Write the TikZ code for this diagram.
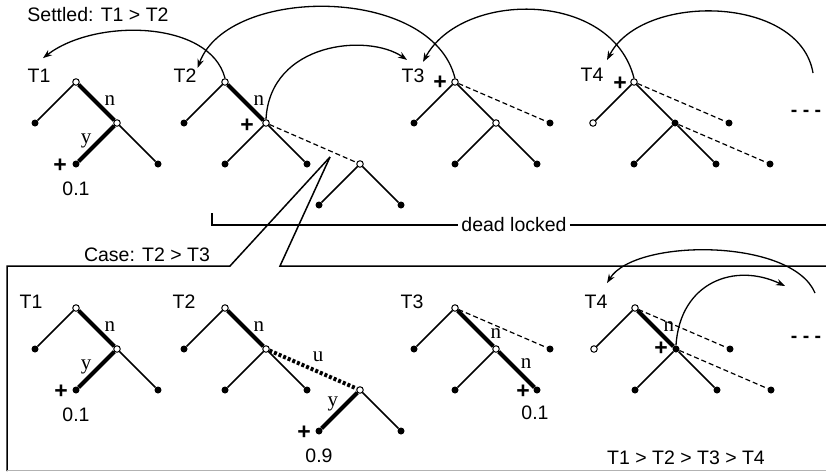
\documentclass[tikz,border=0pt]{standalone}
\usepackage{fontspec}
\setmainfont{Liberation Sans}
\newfontfamily\timesfont{Liberation Serif}
\usetikzlibrary{arrows.meta,positioning}

\begin{document}
\begin{tikzpicture}[x=1pt,y=-1pt,>={Stealth[length=9pt,width=6.5pt]},
 node distance=41pt and 41pt,on grid,
 leaf/.style={circle,fill,inner sep=0pt,minimum size=7pt},
 hollow/.style={circle,draw,fill=white,line width=1pt,inner sep=0pt,minimum size=6.5pt},
 branch/.style={line width=1.5pt},
 heavy/.style={line width=4pt},
 ghost/.style={line width=1.2pt,dash pattern=on 5pt off 3pt},
 heavyghost/.style={line width=4pt,dash pattern=on 3pt off 2pt},
 txt/.style={font=\fontsize{19.5}{22}\selectfont,inner sep=1pt},
 plus/.style={txt,font=\fontsize{23}{24}\selectfont\bfseries},
 dots/.style={txt,font=\fontsize{19.5}{22}\selectfont\bfseries},
 lab/.style={font=\timesfont\fontsize{21}{24}\selectfont,inner sep=1pt},
 onright/.style={lab,anchor=west,xshift=5pt,yshift=2pt},
 onleft/.style={lab,anchor=east,xshift=-2pt,yshift=3pt},
 swing/.style={->,line width=1.3pt}]
\useasboundingbox (0,0) rectangle (826,471);

% settled row
\node[txt] (settled) at (98,15) {Settled: T1 > T2};

% T1
\node[hollow] (a1r) at (76,82) {};
\node[leaf,below left=of a1r] (a1l) {};
\node[hollow,below right=of a1r] (a1m) {};
\node[leaf,below left=of a1m] (a1ml) {};
\node[leaf,below right=of a1m] (a1mr) {};
\node[txt,above left=6pt and 37pt of a1r] (a1t) {T1};
\node[plus,left=16pt of a1ml,yshift=-2pt] (a1p) {+};
\node[txt,below=25pt of a1ml] (a1v) {0.1};
\draw[branch] (a1r) -- (a1l);
\draw[heavy] (a1r) -- node[onright]{n} (a1m);
\draw[heavy] (a1m) -- node[onleft]{y} (a1ml);
\draw[branch] (a1m) -- (a1mr);

% T2
\node[hollow] (a2r) at (225,82) {};
\node[leaf,below left=of a2r] (a2l) {};
\node[hollow,below right=of a2r] (a2m) {};
\node[leaf,below left=of a2m] (a2ml) {};
\node[leaf,below right=of a2m] (a2mr) {};
\node[hollow,below right=41pt and 94pt of a2m] (a2x) {};
\node[leaf,below left=of a2x] (a2xl) {};
\node[leaf,below right=of a2x] (a2xr) {};
\node[txt,above left=6pt and 40pt of a2r] (a2t) {T2};
\node[plus,left=19pt of a2m,yshift=-3pt] (a2p) {+};
\draw[branch] (a2r) -- (a2l);
\draw[heavy] (a2r) -- node[onright]{n} (a2m);
\draw[branch] (a2m) -- (a2ml);
\draw[branch] (a2m) -- (a2mr);
\draw[ghost] (a2m) -- (a2x);
\draw[branch] (a2x) -- (a2xl);
\draw[branch] (a2x) -- (a2xr);

% T3
\node[hollow] (a3r) at (455,82) {};
\node[leaf,below left=of a3r] (a3l) {};
\node[hollow,below right=of a3r] (a3m) {};
\node[leaf,below left=of a3m] (a3ml) {};
\node[leaf,below right=of a3m] (a3mr) {};
\node[leaf,below right=41pt and 95pt of a3r] (a3x) {};
\node[txt,above left=6pt and 42pt of a3r] (a3t) {T3};
\node[plus,left=15pt of a3r,yshift=-1pt] (a3p) {+};
\draw[branch] (a3r) -- (a3l);
\draw[branch] (a3r) -- (a3m);
\draw[branch] (a3m) -- (a3ml);
\draw[branch] (a3m) -- (a3mr);
\draw[ghost] (a3r) -- (a3x);

% T4
\node[hollow] (a4r) at (634,82) {};
\node[hollow,below left=of a4r] (a4l) {};
\node[leaf,below right=of a4r] (a4m) {};
\node[leaf,below left=of a4m] (a4ml) {};
\node[leaf,below right=of a4m] (a4mr) {};
\node[leaf,below right=41pt and 95pt of a4r] (a4x) {};
\node[leaf,below right=41pt and 95pt of a4m] (a4y) {};
\node[txt,above left=7pt and 42pt of a4r] (a4t) {T4};
\node[plus,left=14pt of a4r,yshift=-2pt] (a4p) {+};
\node[dots] (a4d) at (806,113) {- - -};
\draw[branch] (a4r) -- (a4l);
\draw[branch] (a4r) -- (a4m);
\draw[branch] (a4m) -- (a4ml);
\draw[branch] (a4m) -- (a4mr);
\draw[ghost] (a4r) -- (a4x);
\draw[ghost] (a4m) -- (a4y);

% waiting arcs
\coordinate (a4w) at (813,73);
\draw[swing] (a2r.north) .. controls (210,20) and (95,18) .. ([xshift=4pt,yshift=10pt]a1t.north);
\draw[swing] (a3r.north) .. controls (432,-15) and (228,-15) .. (a2t.north east);
\draw[swing] (a2m.north) .. controls (270,42) and (368,33) .. ([xshift=-6pt,yshift=8pt]a3t.north);
\draw[swing] (a4r.north) .. controls (612,-10) and (462,-10) .. ([xshift=10pt,yshift=6pt]a3t.north);
\draw[swing] (a4w) .. controls (800,-5) and (642,-8) .. ([xshift=15pt,yshift=7pt]a4t.north);

% dead lock bracket
\coordinate (dlk) at (212,213);
\coordinate (dle) at (826,225);
\node[txt,inner sep=3pt] (dl) at (514,225) {dead locked};
\draw[branch] (dlk) |- (dl.west);
\draw[branch] (dl.east) -- (dle);

% callout box
\coordinate (zoom) at (330,157);
\node[txt] (case) at (147,255) {Case: T2 > T3};
\draw[branch] (zoom) -- (230,266) -- (7,266) -- (7,471);
\draw[branch] (zoom) -- (280,266) -- (826,266);
\draw[gray!60,line width=0.8pt] (7,470) -- (826,470);

% T1 (case)
\node[hollow] (b1r) at (76,308) {};
\node[leaf,below left=of b1r] (b1l) {};
\node[hollow,below right=of b1r] (b1m) {};
\node[leaf,below left=of b1m] (b1ml) {};
\node[leaf,below right=of b1m] (b1mr) {};
\node[txt,above left=6pt and 45pt of b1r] (b1t) {T1};
\node[plus,left=15pt of b1ml,yshift=-2pt] (b1p) {+};
\node[txt,below=25pt of b1ml] (b1v) {0.1};
\draw[branch] (b1r) -- (b1l);
\draw[heavy] (b1r) -- node[onright]{n} (b1m);
\draw[heavy] (b1m) -- node[onleft]{y} (b1ml);
\draw[branch] (b1m) -- (b1mr);

% T2 (case)
\node[hollow] (b2r) at (225,308) {};
\node[leaf,below left=of b2r] (b2l) {};
\node[hollow,below right=of b2r] (b2m) {};
\node[leaf,below left=of b2m] (b2ml) {};
\node[leaf,below right=of b2m] (b2mr) {};
\node[hollow,below right=41pt and 94pt of b2m] (b2x) {};
\node[leaf,below left=of b2x] (b2xl) {};
\node[leaf,below right=of b2x] (b2xr) {};
\node[txt,above left=6pt and 41pt of b2r] (b2t) {T2};
\node[plus,left=15pt of b2xl,yshift=-2pt] (b2p) {+};
\node[txt,below=25pt of b2xl] (b2v) {0.9};
\draw[branch] (b2r) -- (b2l);
\draw[heavy] (b2r) -- node[onright]{n} (b2m);
\draw[branch] (b2m) -- (b2ml);
\draw[branch] (b2m) -- (b2mr);
\draw[heavyghost] (b2m) -- node[lab,anchor=south,xshift=5pt,yshift=5pt]{u} (b2x);
\draw[heavy] (b2x) -- node[onleft,pos=.4]{y} (b2xl);
\draw[branch] (b2x) -- (b2xr);

% T3 (case)
\node[hollow] (b3r) at (455,308) {};
\node[leaf,below left=of b3r] (b3l) {};
\node[hollow,below right=of b3r] (b3m) {};
\node[leaf,below left=of b3m] (b3ml) {};
\node[leaf,below right=of b3m] (b3mr) {};
\node[leaf,below right=41pt and 95pt of b3r] (b3x) {};
\node[txt,above left=6pt and 43pt of b3r] (b3t) {T3};
\node[plus,left=14pt of b3mr,yshift=-2pt] (b3p) {+};
\node[txt,below=23pt of b3mr,xshift=-2pt] (b3v) {0.1};
\draw[branch] (b3r) -- (b3l);
\draw[heavy] (b3r) -- node[onright,pos=.7]{n} (b3m);
\draw[branch] (b3m) -- (b3ml);
\draw[heavy] (b3m) -- node[onright,pos=.4]{n} (b3mr);
\draw[ghost] (b3r) -- (b3x);

% T4 (case)
\node[hollow] (b4r) at (635,308) {};
\node[hollow,below left=of b4r] (b4l) {};
\node[leaf,below right=of b4r] (b4m) {};
\node[leaf,below left=of b4m] (b4ml) {};
\node[leaf,below right=of b4m] (b4mr) {};
\node[leaf,below right=41pt and 95pt of b4r] (b4x) {};
\node[leaf,below right=41pt and 95pt of b4m] (b4y) {};
\node[txt,above left=6pt and 39pt of b4r] (b4t) {T4};
\node[plus,left=15pt of b4m] (b4p) {+};
\node[dots] (b4d) at (806,339) {- - -};
\draw[branch] (b4r) -- (b4l);
\draw[heavy] (b4r) -- node[onright]{n} (b4m);
\draw[branch] (b4m) -- (b4ml);
\draw[branch] (b4m) -- (b4mr);
\draw[ghost] (b4r) -- (b4x);
\draw[ghost] (b4m) -- (b4y);

\coordinate (b4w) at (815,293);
\coordinate (b4z) at (785,286);
\draw[swing] (b4w) .. controls (792,238) and (635,238) .. ([xshift=11pt,yshift=11pt]b4t.north);
\draw[swing] (b4m.north) .. controls (680,282) and (735,262) .. (b4z);

\node[txt] (order) at (686,458) {T1 > T2 > T3 > T4};
\end{tikzpicture}
\end{document}
